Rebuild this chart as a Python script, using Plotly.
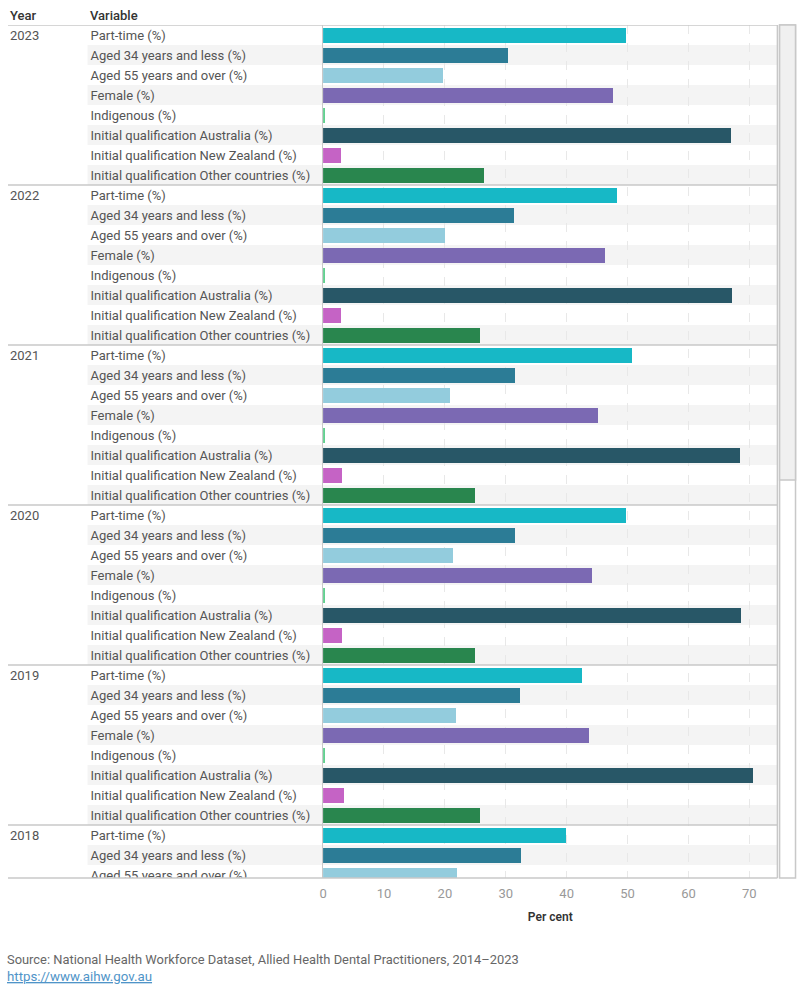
import plotly.graph_objects as go

# ---------------- data ----------------
years = ["2023", "2022", "2021", "2020", "2019", "2018"]
variables = [
    "Part-time (%)",
    "Aged 34 years and less (%)",
    "Aged 55 years and over (%)",
    "Female (%)",
    "Indigenous (%)",
    "Initial qualification Australia (%)",
    "Initial qualification New Zealand (%)",
    "Initial qualification Other countries (%)",
]
v2023 = [49.7, 30.3, 19.7, 47.6, 0.4, 67.0, 3.0, 26.5]
v2022 = [48.3, 31.3, 20.0, 46.3, 0.2, 67.2, 3.0, 25.7]
v2021 = [50.7, 31.6, 20.8, 45.2, 0.2, 68.4, 3.1, 25.0]
v2020 = [49.7, 31.6, 21.3, 44.2, 0.2, 68.7, 3.1, 25.0]
v2019 = [42.5, 32.4, 21.8, 43.7, 0.2, 70.6, 3.5, 25.7]
v2018 = [39.9, 32.5, 22.0]  # only the rows visible in the scrolled view
values_by_year = [v2023, v2022, v2021, v2020, v2019, v2018]

colors = ["#17b8c6", "#2c7c96", "#93ccdd", "#7b69b3", "#62cf8f",
          "#285767", "#c563c5", "#29864e"]
x_ticks = [0, 10, 20, 30, 40, 50, 60, 70]

# ---------------- layout constants ----------------
W, H = 800, 1000
PLOT_L, PLOT_R = 320.7, 777.3
TOP, BOTTOM = 25, 878
ROW = 20
n_per_year = len(variables)
visible_rows = (BOTTOM - TOP) / ROW
y_range = [-0.5 + visible_rows, -0.5]
FONT = "Roboto"
TXT = "#555555"
LINE = "#c8c8c8"
LABEL_SHIFT = 0.07  # small vertical nudge so text centres on its row


def py(px):
    """pixel y (from top of page) -> paper y"""
    return (BOTTOM - px) / (BOTTOM - TOP)


fig = go.Figure()

# bars: one trace per variable
for j, var in enumerate(variables):
    ys, xs = [], []
    for k, vals in enumerate(values_by_year):
        if j < len(vals):
            ys.append(k * n_per_year + j)
            xs.append(vals[j])
    fig.add_trace(go.Bar(
        x=xs, y=ys, orientation="h", width=0.75,
        marker=dict(color=colors[j], line=dict(width=0)),
        name=var, showlegend=False, hoverinfo="x",
        xaxis="x", yaxis="y",
    ))

# row labels (clipped to the scrolled region) on a helper axis in pixel units
lab_y, lab_t = [], []
yr_y, yr_t = [], []
for k, vals in enumerate(values_by_year):
    yr_y.append(k * n_per_year + LABEL_SHIFT)
    yr_t.append(years[k])
    for j in range(n_per_year):
        r = k * n_per_year + j
        if r - 0.5 < visible_rows:
            lab_y.append(r + LABEL_SHIFT)
            lab_t.append(variables[j])

fig.add_trace(go.Scatter(
    x=[87] * len(lab_y), y=lab_y, text=lab_t, mode="text",
    textposition="middle right", textfont=dict(family=FONT, size=13, color=TXT),
    hoverinfo="skip", showlegend=False, xaxis="x2", yaxis="y", cliponaxis=True,
))
fig.add_trace(go.Scatter(
    x=[6] * len(yr_y), y=yr_y, text=yr_t, mode="text",
    textposition="middle right", textfont=dict(family=FONT, size=13, color=TXT),
    hoverinfo="skip", showlegend=False, xaxis="x2", yaxis="y", cliponaxis=True,
))

shapes = []
# alternating row shading
total_rows = int(visible_rows) + 1
for r in range(total_rows):
    if r % 2 == 1:
        shapes.append(dict(type="rect", xref="paper", yref="y",
                           x0=84 / W, x1=PLOT_R / W, y0=r - 0.5, y1=r + 0.5,
                           fillcolor="#f4f4f4", line=dict(width=0), layer="below"))
# year separators
for k in range(len(years)):
    yb = k * n_per_year - 0.5
    if yb < visible_rows - 0.5:
        shapes.append(dict(type="line", xref="paper", yref="y",
                           x0=4 / W, x1=PLOT_R / W, y0=yb, y1=yb,
                           line=dict(color=LINE, width=1.5), layer="above"))
# bottom border
shapes.append(dict(type="line", xref="paper", yref="paper",
                   x0=4 / W, x1=PLOT_R / W, y0=0, y1=0,
                   line=dict(color=LINE, width=1.5), layer="above"))
# right border of plot
shapes.append(dict(type="line", xref="paper", yref="paper",
                   x0=PLOT_R / W, x1=PLOT_R / W, y0=0, y1=1,
                   line=dict(color=LINE, width=1.5), layer="above"))
# scrollbar
shapes.append(dict(type="rect", xref="paper", yref="paper",
                   x0=779.5 / W, x1=795.5 / W, y0=0, y1=1,
                   fillcolor="white", line=dict(color=LINE, width=1.5)))
shapes.append(dict(type="rect", xref="paper", yref="paper",
                   x0=779.5 / W, x1=795.5 / W, y0=py(480), y1=1,
                   fillcolor="#f0f0f0", line=dict(color=LINE, width=1.5)))

annotations = [
    dict(text="Year", x=4 / W, y=py(15), xref="paper", yref="paper", xanchor="left",
         yanchor="middle", showarrow=False,
         font=dict(family=FONT, size=13, color="#333333", weight=500)),
    dict(text="Variable", x=84 / W, y=py(15), xref="paper", yref="paper", xanchor="left",
         yanchor="middle", showarrow=False,
         font=dict(family=FONT, size=13, color="#333333", weight=500)),
    dict(text="Source: National Health Workforce Dataset, Allied Health Dental Practitioners, 2014–2023",
         x=1 / W, y=py(960), xref="paper", yref="paper", xanchor="left",
         yanchor="middle", showarrow=False,
         font=dict(family=FONT, size=12.9, color="#666666")),
    dict(text="<u>https://www.aihw.gov.au</u>",
         x=1 / W, y=py(977), xref="paper", yref="paper", xanchor="left",
         yanchor="middle", showarrow=False,
         font=dict(family=FONT, size=13.3, color="#4f94c8")),
]

fig.update_layout(
    width=W, height=H,
    margin=dict(l=0, r=0, t=TOP, b=H - BOTTOM, pad=0),
    paper_bgcolor="white", plot_bgcolor="rgba(0,0,0,0)",
    bargap=0, showlegend=False,
    xaxis=dict(domain=[PLOT_L / W, PLOT_R / W], range=[0, (PLOT_R - PLOT_L) / 6.12],
               tickvals=x_ticks, showgrid=True, gridcolor="#e8e8e8", griddash="dash",
               gridwidth=1, zeroline=False, showline=False, ticks="",
               ticklabelstandoff=6,
               tickfont=dict(family=FONT, size=13, color="#999999"),
               title=dict(text="Per cent", standoff=12,
                          font=dict(family=FONT, size=12, color="#333333", weight=600)),
               fixedrange=True),
    xaxis2=dict(domain=[0, PLOT_L / W], range=[0, PLOT_L], visible=False,
                anchor="y", fixedrange=True),
    yaxis=dict(range=y_range, showgrid=False, zeroline=False, showticklabels=False,
               showline=True, linecolor=LINE, linewidth=1, ticks="", fixedrange=True),
    shapes=shapes,
    annotations=annotations,
)

fig.write_html("out.html")
